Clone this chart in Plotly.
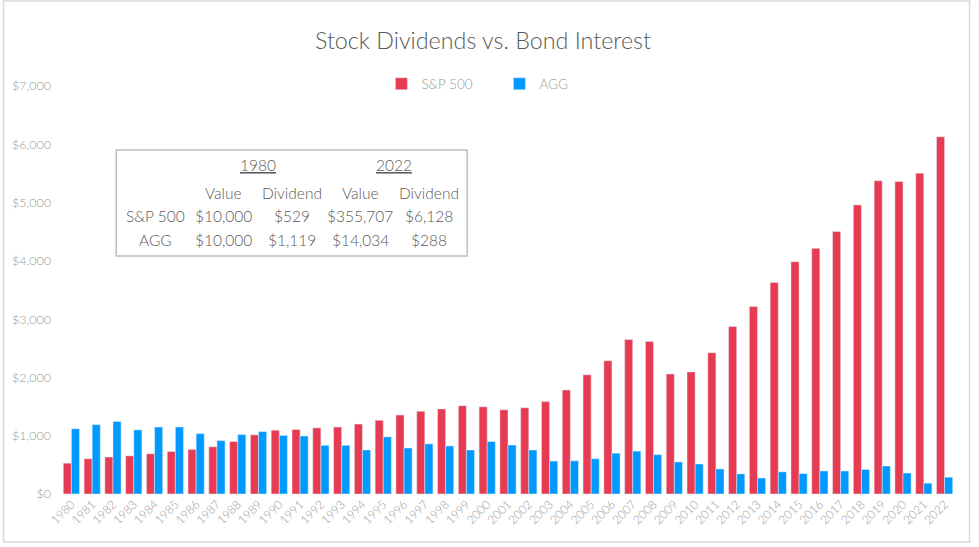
import plotly.graph_objects as go

years = [str(y) for y in range(1980, 2023)]
sp500 = [529, 605, 635, 655, 690, 730, 765, 810, 900, 1015,
         1095, 1105, 1135, 1150, 1200, 1265, 1355, 1420, 1460, 1515,
         1495, 1445, 1480, 1585, 1785, 2045, 2285, 2650, 2615, 2060,
         2095, 2425, 2875, 3215, 3630, 3985, 4215, 4505, 4960, 5375,
         5360, 5505, 6128]
agg = [1119, 1190, 1245, 1100, 1150, 1150, 1035, 915, 1020, 1070,
       1005, 995, 835, 835, 755, 980, 790, 860, 825, 755,
       900, 840, 755, 565, 570, 605, 700, 735, 675, 550,
       515, 430, 345, 275, 380, 350, 395, 395, 420, 480,
       360, 185, 288]

table_header_years = ["1980", "2022"]
table_sub = ["Value", "Dividend", "Value", "Dividend"]
table_rows = [
    ["S&P 500", "$10,000", "$529", "$355,707", "$6,128"],
    ["AGG", "$10,000", "$1,119", "$14,034", "$288"],
]

RED = "#E63B53"
BLUE = "#0099FF"
FONT = "Lato"
TXT = "#595959"
TICK = "#9A9A9A"

W, H = 979, 547
L, R, T, B = 58.6, 23.6, 86, 53
PW = W - L - R
PH = H - T - B

def px_x(x):
    return (x - L) / PW

def px_y(y):
    return (H - B - y) / PH

col_px = [153, 222, 290, 359, 428]
year_px = [256, 393]
row_px = [193, 216, 240]

fig = go.Figure()
fig.add_trace(go.Bar(x=years, y=sp500, name="S&P 500", marker_color=RED))
fig.add_trace(go.Bar(x=years, y=agg, name="AGG", marker_color=BLUE))

fig.update_layout(
    width=W, height=H,
    margin=dict(l=L, r=R, t=T, b=B),
    paper_bgcolor="white", plot_bgcolor="white",
    barmode="group", bargap=0.22, bargroupgap=0,
    font=dict(family=FONT, color=TXT, weight=300),
    title=dict(text="Stock Dividends vs. Bond Interest", x=483 / W, xanchor="center",
               y=1 - 41 / H, yanchor="middle", yref="container",
               font=dict(size=23.3, color=TXT, family=FONT, weight=300)),
    legend=dict(orientation="h", xanchor="left", x=px_x(380), y=px_y(84), yanchor="middle",
                font=dict(size=13.5, color=TICK, family=FONT, weight=300),
                entrywidth=73, itemwidth=30, bgcolor="rgba(0,0,0,0)"),
    showlegend=True,
)
fig.update_yaxes(range=[0, 7000], tickvals=list(range(0, 7001, 1000)),
                 tickformat="$,.0f", showgrid=False, zeroline=False, showline=False,
                 ticks="", tickfont=dict(size=12.5, color=TICK, family=FONT, weight=300),
                 ticklabelstandoff=9)
fig.update_xaxes(type="category", tickangle=-45, showgrid=False, showline=False,
                 ticks="", tickfont=dict(size=12, color=TICK, family=FONT, weight=300))

# outer chart border
fig.add_shape(type="rect", xref="paper", yref="paper",
              x0=px_x(1), x1=px_x(970), y0=px_y(542), y1=px_y(1),
              line=dict(color="#D9D9D9", width=1.5), fillcolor="rgba(0,0,0,0)", layer="below")

# table box
fig.add_shape(type="rect", xref="paper", yref="paper",
              x0=px_x(114), x1=px_x(466), y0=px_y(256), y1=px_y(150),
              line=dict(color="#BFBFBF", width=1.5), fillcolor="white")

def ann(text, xp, yp):
    fig.add_annotation(text=text, xref="paper", yref="paper", x=px_x(xp), y=px_y(yp),
                       xanchor="center", yanchor="middle", showarrow=False,
                       font=dict(size=15.5, color=TXT, family=FONT, weight=300))

for yr, xp in zip(table_header_years, year_px):
    ann("<u>" + yr + "</u>", xp, 165)
for i, s in enumerate(table_sub):
    ann(s, col_px[i + 1], row_px[0])
for r, yp in zip(table_rows, row_px[1:]):
    for c, v in enumerate(r):
        ann(v, col_px[c], yp)

fig.write_html("out.html", config={"displayModeBar": False},
               post_script="document.body.style.margin='0';document.body.style.overflow='hidden';")
